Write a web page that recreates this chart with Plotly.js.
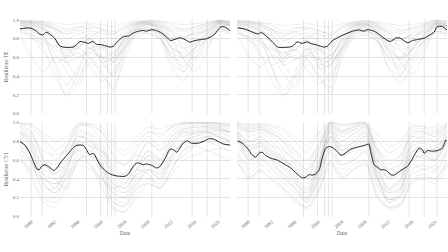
<!DOCTYPE html>
<html><head><meta charset="utf-8">
<script src="https://cdn.plot.ly/plotly-3.0.1.min.js"></script>
<style>html,body{margin:0;padding:0;background:#fff}#c{width:448px;height:252px}</style>
</head><body><div id="c"></div>
<script>
// ---- data ----
var years = [1986,1988,1990,1992,1994,1996,1998,2000,2002,2004,2006,2008,2010,2012,2014,2016,2018,2020,2022];
var tickYears = [1988,1992,1996,2000,2004,2008,2012,2016,2020];
var eventYears = [1987.9,1989.8,1997.4,1999.8,2001.0,2001.7,2002.3,2008.6,2015.5,2018.1,2020.3];

// top-left (TE) grey runs
var teLeftRuns = [
 [0.98,0.97,0.95,0.9,0.85,0.92,0.95,0.9,0.88,0.95,0.98,0.99,0.97,0.92,0.9,0.93,0.96,0.99,0.97],
 [0.95,0.9,0.8,0.55,0.3,0.5,0.75,0.6,0.55,0.8,0.95,0.97,0.9,0.7,0.65,0.8,0.9,0.98,0.95],
 [0.9,0.85,0.7,0.4,0.2,0.45,0.7,0.55,0.4,0.7,0.9,0.95,0.85,0.55,0.45,0.7,0.85,0.95,0.9],
 [1.0,0.99,0.98,0.95,0.9,0.93,0.9,0.85,0.85,0.92,0.97,0.98,0.96,0.9,0.88,0.9,0.94,0.99,0.98],
 [0.85,0.6,0.45,0.6,0.55,0.7,0.8,0.7,0.75,0.85,0.9,0.9,0.85,0.8,0.82,0.85,0.88,0.93,0.9],
 [0.97,0.95,0.9,0.75,0.6,0.65,0.5,0.35,0.45,0.75,0.9,0.93,0.88,0.75,0.6,0.7,0.85,0.97,0.95],
 [0.99,0.98,0.97,0.92,0.8,0.85,0.88,0.8,0.7,0.88,0.96,0.98,0.95,0.85,0.75,0.82,0.92,0.99,0.98],
 [0.92,0.88,0.82,0.65,0.45,0.3,0.55,0.45,0.25,0.6,0.85,0.9,0.8,0.6,0.5,0.65,0.8,0.93,0.9],
 [0.96,0.93,0.9,0.85,0.7,0.6,0.7,0.72,0.65,0.8,0.92,0.95,0.93,0.88,0.7,0.6,0.75,0.95,0.94],
 [0.88,0.8,0.75,0.7,0.55,0.6,0.65,0.6,0.58,0.72,0.85,0.86,0.78,0.5,0.35,0.55,0.7,0.88,0.85],
 [0.99,0.99,0.98,0.97,0.95,0.96,0.97,0.95,0.93,0.97,0.99,1.0,0.99,0.97,0.95,0.96,0.98,1.0,0.99],
 [0.94,0.92,0.85,0.5,0.18,0.35,0.6,0.4,0.3,0.65,0.88,0.92,0.82,0.62,0.55,0.72,0.85,0.96,0.93],
 [0.97,0.94,0.92,0.8,0.65,0.78,0.85,0.75,0.6,0.82,0.94,0.96,0.9,0.78,0.7,0.75,0.88,0.97,0.95],
 [0.93,0.96,0.94,0.88,0.75,0.7,0.82,0.88,0.8,0.9,0.96,0.97,0.93,0.82,0.8,0.88,0.93,0.98,0.96],
 [0.9,0.82,0.65,0.55,0.6,0.75,0.7,0.6,0.65,0.78,0.88,0.9,0.86,0.7,0.62,0.75,0.82,0.9,0.88],
 [0.98,0.96,0.92,0.82,0.55,0.4,0.65,0.7,0.55,0.75,0.93,0.96,0.92,0.8,0.58,0.45,0.65,0.92,0.95],
 [0.95,0.9,0.88,0.78,0.62,0.72,0.8,0.62,0.4,0.7,0.92,0.95,0.9,0.7,0.45,0.6,0.8,0.96,0.94],
 [0.99,0.97,0.95,0.9,0.85,0.88,0.92,0.9,0.85,0.93,0.97,0.99,0.98,0.95,0.9,0.92,0.96,0.99,0.98],
 [0.87,0.84,0.78,0.72,0.68,0.7,0.6,0.5,0.55,0.7,0.82,0.86,0.8,0.65,0.6,0.7,0.78,0.9,0.86],
 [0.96,0.98,0.96,0.92,0.88,0.9,0.78,0.55,0.6,0.85,0.95,0.97,0.94,0.88,0.82,0.86,0.9,0.97,0.97]
];
// top-right (TE) grey runs
var teRightRuns = [
 [0.97,0.96,0.93,0.88,0.82,0.9,0.93,0.88,0.86,0.94,0.97,0.98,0.96,0.9,0.88,0.92,0.95,0.99,0.96],
 [0.93,0.88,0.78,0.5,0.25,0.45,0.7,0.55,0.5,0.78,0.93,0.96,0.88,0.65,0.6,0.78,0.88,0.97,0.94],
 [0.88,0.82,0.65,0.35,0.18,0.4,0.65,0.5,0.35,0.68,0.88,0.93,0.82,0.5,0.4,0.68,0.83,0.94,0.88],
 [1.0,0.99,0.97,0.94,0.88,0.92,0.9,0.84,0.83,0.91,0.96,0.98,0.95,0.88,0.86,0.89,0.93,0.99,0.98],
 [0.83,0.62,0.5,0.62,0.55,0.68,0.78,0.68,0.72,0.83,0.88,0.88,0.83,0.78,0.8,0.83,0.86,0.92,0.88],
 [0.96,0.94,0.88,0.72,0.58,0.62,0.48,0.32,0.42,0.72,0.88,0.92,0.86,0.72,0.58,0.68,0.83,0.96,0.94],
 [0.99,0.98,0.96,0.9,0.78,0.83,0.86,0.78,0.68,0.86,0.95,0.97,0.94,0.83,0.72,0.8,0.9,0.98,0.97],
 [0.9,0.86,0.8,0.62,0.42,0.28,0.52,0.42,0.22,0.58,0.83,0.88,0.78,0.58,0.48,0.62,0.78,0.92,0.88],
 [0.95,0.92,0.88,0.83,0.68,0.58,0.68,0.7,0.62,0.78,0.9,0.94,0.92,0.86,0.68,0.58,0.72,0.94,0.93],
 [0.86,0.78,0.72,0.68,0.52,0.58,0.62,0.58,0.55,0.7,0.83,0.85,0.76,0.48,0.32,0.52,0.68,0.86,0.83],
 [0.99,0.98,0.97,0.96,0.94,0.95,0.96,0.94,0.92,0.96,0.98,0.99,0.98,0.96,0.94,0.95,0.97,1.0,0.99],
 [0.92,0.9,0.83,0.48,0.2,0.32,0.58,0.38,0.28,0.62,0.86,0.9,0.8,0.6,0.52,0.7,0.83,0.95,0.92],
 [0.96,0.93,0.9,0.78,0.62,0.75,0.83,0.72,0.58,0.8,0.93,0.95,0.88,0.75,0.68,0.73,0.86,0.96,0.94],
 [0.94,0.95,0.93,0.86,0.72,0.68,0.8,0.86,0.78,0.88,0.95,0.96,0.92,0.8,0.78,0.86,0.92,0.97,0.95],
 [0.88,0.8,0.62,0.52,0.58,0.72,0.68,0.58,0.62,0.76,0.86,0.88,0.84,0.68,0.6,0.72,0.8,0.88,0.86],
 [0.97,0.95,0.9,0.8,0.52,0.38,0.62,0.68,0.52,0.72,0.92,0.95,0.9,0.78,0.55,0.42,0.62,0.9,0.94],
 [0.94,0.88,0.86,0.75,0.6,0.7,0.78,0.6,0.38,0.68,0.9,0.94,0.88,0.68,0.42,0.58,0.78,0.95,0.93],
 [0.99,0.97,0.95,0.9,0.84,0.87,0.91,0.89,0.84,0.92,0.97,0.99,0.97,0.94,0.89,0.91,0.95,0.99,0.98],
 [0.86,0.82,0.76,0.7,0.65,0.68,0.58,0.48,0.52,0.68,0.8,0.84,0.78,0.62,0.58,0.68,0.76,0.88,0.85],
 [0.97,0.97,0.95,0.9,0.86,0.88,0.76,0.52,0.58,0.83,0.94,0.96,0.93,0.86,0.8,0.84,0.89,0.96,0.96]
];
// bottom-left (CVI) grey runs
var cviLeftRuns = [
 [0.95,0.8,0.45,0.3,0.55,0.9,0.85,0.6,0.3,0.25,0.5,0.7,0.6,0.85,0.95,0.97,0.98,0.96,0.93],
 [0.85,0.6,0.25,0.2,0.45,0.85,0.8,0.45,0.15,0.1,0.35,0.55,0.45,0.75,0.9,0.92,0.95,0.93,0.9],
 [0.9,0.85,0.7,0.65,0.7,0.8,0.75,0.7,0.6,0.55,0.65,0.6,0.55,0.65,0.8,0.85,0.88,0.9,0.85],
 [0.98,0.95,0.8,0.6,0.75,0.97,0.95,0.8,0.5,0.45,0.7,0.85,0.75,0.9,0.98,0.99,0.99,0.98,0.96],
 [0.7,0.45,0.2,0.15,0.35,0.65,0.6,0.35,0.1,0.05,0.25,0.4,0.35,0.6,0.75,0.8,0.85,0.8,0.75],
 [0.8,0.7,0.55,0.5,0.6,0.7,0.55,0.4,0.3,0.35,0.5,0.45,0.3,0.5,0.7,0.75,0.7,0.72,0.7],
 [0.92,0.75,0.35,0.25,0.5,0.8,0.9,0.75,0.45,0.35,0.6,0.8,0.7,0.8,0.9,0.88,0.92,0.95,0.9],
 [0.6,0.5,0.4,0.35,0.4,0.55,0.5,0.4,0.25,0.2,0.3,0.35,0.3,0.45,0.6,0.65,0.7,0.65,0.6],
 [0.97,0.9,0.6,0.45,0.7,0.95,0.98,0.9,0.65,0.55,0.75,0.9,0.85,0.95,0.99,1.0,0.99,0.99,0.97],
 [0.75,0.55,0.3,0.3,0.5,0.75,0.7,0.55,0.2,0.15,0.4,0.6,0.5,0.55,0.65,0.75,0.85,0.88,0.8],
 [0.88,0.82,0.6,0.4,0.3,0.6,0.7,0.5,0.35,0.3,0.45,0.5,0.4,0.6,0.8,0.9,0.9,0.85,0.8],
 [0.99,0.97,0.9,0.8,0.85,0.98,0.97,0.9,0.75,0.65,0.8,0.9,0.88,0.95,0.99,0.99,1.0,0.99,0.98],
 [0.9,0.7,0.4,0.35,0.6,0.88,0.75,0.5,0.25,0.2,0.45,0.65,0.55,0.8,0.92,0.95,0.96,0.94,0.9],
 [0.82,0.65,0.5,0.45,0.55,0.75,0.8,0.65,0.4,0.3,0.5,0.65,0.6,0.7,0.85,0.88,0.9,0.92,0.88],
 [0.95,0.88,0.65,0.55,0.75,0.92,0.88,0.7,0.45,0.4,0.6,0.78,0.7,0.85,0.93,0.95,0.96,0.97,0.95],
 [0.65,0.4,0.15,0.1,0.3,0.6,0.55,0.3,0.08,0.05,0.2,0.35,0.3,0.5,0.7,0.78,0.8,0.75,0.7],
 [0.78,0.6,0.45,0.4,0.45,0.6,0.65,0.55,0.35,0.25,0.35,0.5,0.45,0.65,0.78,0.82,0.85,0.85,0.8],
 [0.99,0.98,0.85,0.7,0.8,0.99,0.99,0.95,0.8,0.7,0.85,0.95,0.93,0.98,1.0,1.0,1.0,1.0,0.99],
 [0.72,0.58,0.35,0.25,0.4,0.7,0.65,0.45,0.15,0.12,0.3,0.5,0.4,0.65,0.8,0.85,0.9,0.85,0.8],
 [0.88,0.78,0.55,0.5,0.65,0.85,0.82,0.7,0.55,0.45,0.55,0.7,0.62,0.75,0.88,0.9,0.93,0.92,0.9]
];
// bottom-right (CVI) grey runs
var cviRightRuns = [
 [0.95,0.85,0.9,0.8,0.65,0.45,0.3,0.6,0.97,0.85,0.92,0.97,0.6,0.3,0.4,0.8,0.85,0.8,0.95],
 [0.85,0.65,0.75,0.6,0.45,0.3,0.15,0.45,0.9,0.7,0.8,0.9,0.45,0.15,0.25,0.65,0.7,0.65,0.85],
 [0.99,0.95,0.97,0.92,0.85,0.7,0.55,0.8,1.0,0.95,0.98,1.0,0.75,0.55,0.65,0.92,0.93,0.9,0.98],
 [0.7,0.5,0.6,0.5,0.35,0.25,0.15,0.35,0.75,0.55,0.65,0.75,0.35,0.15,0.2,0.5,0.55,0.5,0.7],
 [0.9,0.8,0.82,0.75,0.7,0.6,0.5,0.65,0.85,0.75,0.78,0.85,0.6,0.5,0.55,0.75,0.7,0.72,0.85],
 [0.75,0.6,0.65,0.55,0.45,0.35,0.25,0.45,0.7,0.55,0.6,0.7,0.4,0.25,0.3,0.55,0.5,0.55,0.7],
 [1.0,0.98,0.99,0.97,0.93,0.85,0.75,0.9,1.0,0.98,0.99,1.0,0.88,0.75,0.8,0.97,0.96,0.95,0.99],
 [0.6,0.4,0.5,0.4,0.3,0.2,0.1,0.3,0.6,0.45,0.55,0.6,0.25,0.1,0.15,0.4,0.45,0.4,0.6],
 [0.93,0.75,0.85,0.7,0.55,0.4,0.25,0.55,0.95,0.8,0.88,0.95,0.5,0.25,0.35,0.75,0.78,0.72,0.92],
 [0.8,0.72,0.75,0.68,0.6,0.5,0.4,0.55,0.78,0.65,0.7,0.78,0.55,0.4,0.45,0.65,0.62,0.6,0.78],
 [0.97,0.9,0.93,0.88,0.78,0.6,0.45,0.7,0.99,0.9,0.95,0.99,0.65,0.4,0.55,0.88,0.9,0.85,0.97],
 [0.65,0.45,0.55,0.45,0.3,0.18,0.08,0.25,0.55,0.4,0.5,0.55,0.2,0.08,0.12,0.35,0.4,0.35,0.55],
 [0.88,0.68,0.78,0.62,0.5,0.35,0.2,0.5,0.9,0.7,0.8,0.88,0.4,0.18,0.28,0.68,0.7,0.62,0.85],
 [0.95,0.9,0.92,0.88,0.8,0.7,0.6,0.75,0.95,0.88,0.92,0.95,0.72,0.6,0.65,0.85,0.82,0.8,0.92],
 [0.9,0.6,0.7,0.65,0.6,0.5,0.35,0.5,0.85,0.65,0.72,0.8,0.5,0.3,0.4,0.6,0.65,0.6,0.8],
 [0.98,0.93,0.95,0.85,0.72,0.55,0.4,0.7,0.98,0.9,0.95,0.98,0.7,0.45,0.5,0.85,0.88,0.85,0.96],
 [0.92,0.8,0.85,0.75,0.6,0.42,0.28,0.55,0.93,0.8,0.88,0.93,0.55,0.28,0.38,0.78,0.8,0.75,0.9],
 [0.8,0.62,0.7,0.58,0.42,0.28,0.18,0.4,0.85,0.65,0.75,0.85,0.42,0.18,0.22,0.6,0.65,0.6,0.8],
 [0.97,0.92,0.95,0.9,0.8,0.65,0.5,0.75,0.98,0.92,0.96,0.98,0.7,0.5,0.6,0.9,0.9,0.88,0.96],
 [0.68,0.55,0.62,0.52,0.4,0.3,0.2,0.38,0.68,0.5,0.6,0.68,0.32,0.18,0.22,0.45,0.5,0.48,0.65],
 [0.85,0.75,0.78,0.7,0.62,0.52,0.42,0.6,0.82,0.7,0.75,0.82,0.55,0.42,0.48,0.7,0.68,0.68,0.82],
 [0.99,0.97,0.98,0.95,0.9,0.8,0.68,0.88,1.0,0.97,0.99,1.0,0.82,0.68,0.75,0.95,0.95,0.92,0.99],
 [0.58,0.42,0.48,0.38,0.28,0.15,0.1,0.28,0.58,0.42,0.5,0.58,0.22,0.1,0.12,0.38,0.42,0.4,0.58],
 [0.9,0.7,0.8,0.66,0.52,0.38,0.22,0.52,0.92,0.75,0.84,0.9,0.45,0.22,0.3,0.7,0.74,0.68,0.88]
];

// median series
var teLeftMedX = [1986.0,1987.7,1988.6,1989.4,1989.9,1990.5,1991.1,1992.0,1992.7,1993.4,1995.1,1995.6,1996.3,1997.1,1997.7,1998.5,1999.1,2000.0,2000.9,2001.4,2002.0,2002.9,2003.7,2004.6,2005.4,2006.3,2007.1,2007.7,2008.6,2009.4,2010.3,2011.1,2011.8,2012.4,2013.4,2014.3,2015.1,2016.0,2016.9,2017.7,2018.6,2019.4,2020.3,2020.9,2021.5,2022.0];
var teLeftMedY = [0.905,0.915,0.89,0.85,0.84,0.87,0.85,0.80,0.73,0.71,0.71,0.73,0.77,0.76,0.75,0.77,0.74,0.735,0.72,0.71,0.72,0.78,0.82,0.83,0.86,0.88,0.887,0.88,0.897,0.887,0.86,0.82,0.78,0.79,0.81,0.79,0.763,0.78,0.79,0.795,0.816,0.85,0.92,0.93,0.91,0.88];
var teRightMedX = [1986.1,1987.2,1988.3,1989.5,1990.2,1990.6,1991.5,1992.3,1993.0,1994.9,1995.5,1996.3,1997.2,1998.1,1998.6,1999.8,2000.9,2001.5,2002.3,2003.5,2004.6,2005.8,2006.9,2007.8,2008.3,2009.5,2010.6,2011.8,2012.3,2013.2,2013.8,2014.6,2015.3,2016.1,2016.9,2018.1,2018.9,2019.8,2020.3,2021.2,2022.0];
var teRightMedY = [0.915,0.905,0.88,0.85,0.865,0.85,0.80,0.75,0.71,0.71,0.72,0.765,0.75,0.765,0.75,0.73,0.71,0.72,0.775,0.82,0.85,0.88,0.894,0.88,0.897,0.88,0.834,0.78,0.77,0.806,0.81,0.78,0.756,0.78,0.79,0.806,0.834,0.87,0.93,0.93,0.894];
var cviLeftMedX = [1986.0,1986.9,1987.7,1988.3,1988.9,1989.3,1989.7,1990.2,1990.9,1991.4,1991.8,1992.3,1993.1,1994.0,1994.9,1995.6,1996.3,1996.9,1997.4,1997.9,1998.6,1999.1,1999.7,2000.6,2001.4,2002.3,2003.1,2004.0,2004.6,2005.4,2006.0,2006.6,2007.1,2007.7,2008.6,2009.4,2010.0,2010.9,2011.7,2012.3,2012.9,2013.4,2014.0,2014.7,2015.4,2016.6,2017.4,2018.3,2019.1,2020.0,2020.9,2022.0];
var cviLeftMedY = [0.797,0.755,0.674,0.586,0.505,0.498,0.533,0.55,0.533,0.505,0.488,0.516,0.586,0.65,0.716,0.755,0.76,0.755,0.71,0.66,0.67,0.62,0.55,0.488,0.453,0.435,0.428,0.428,0.453,0.533,0.568,0.565,0.55,0.56,0.544,0.516,0.533,0.62,0.716,0.71,0.684,0.726,0.78,0.804,0.78,0.78,0.797,0.825,0.825,0.797,0.77,0.76];
var cviRightMedX = [1986.1,1986.9,1987.8,1988.6,1989.2,1989.8,1990.3,1990.9,1991.8,1992.9,1994.1,1995.2,1996.3,1997.2,1997.8,1998.3,1998.9,1999.5,2000.1,2000.6,2001.2,2001.8,2002.3,2003.2,2003.8,2004.3,2005.5,2006.6,2007.8,2008.6,2008.9,2009.5,2010.1,2010.6,2011.2,2011.8,2012.3,2012.9,2013.5,2014.3,2015.2,2015.8,2016.6,2017.2,2017.8,2018.1,2018.6,2019.5,2020.3,2021.2,2021.8,2022.0];
var cviRightMedY = [0.804,0.78,0.726,0.656,0.63,0.674,0.684,0.65,0.62,0.60,0.558,0.516,0.453,0.41,0.418,0.446,0.44,0.453,0.498,0.62,0.726,0.744,0.737,0.69,0.65,0.664,0.716,0.737,0.755,0.77,0.69,0.55,0.523,0.498,0.498,0.48,0.446,0.44,0.463,0.498,0.533,0.586,0.674,0.726,0.71,0.67,0.70,0.695,0.70,0.726,0.814,0.80];

// ---- build ----
var panels = [
 {runs: teLeftRuns,  mx: teLeftMedX,  my: teLeftMedY,  xa:'x',  ya:'y'},
 {runs: teRightRuns, mx: teRightMedX, my: teRightMedY, xa:'x2', ya:'y2'},
 {runs: cviLeftRuns, mx: cviLeftMedX, my: cviLeftMedY, xa:'x3', ya:'y3'},
 {runs: cviRightRuns,mx: cviRightMedX,my: cviRightMedY,xa:'x4', ya:'y4'}
];
var traces = [];
panels.forEach(function(p){
  p.runs.forEach(function(r){
    traces.push({x: years, y: r, xaxis:p.xa, yaxis:p.ya, mode:'lines',
      line:{color:'rgba(120,120,120,0.22)', width:0.6, shape:'spline', smoothing:0.7},
      hoverinfo:'skip', showlegend:false});
  });
});
panels.forEach(function(p){
  traces.push({x: p.mx, y: p.my, xaxis:p.xa, yaxis:p.ya, mode:'lines',
    line:{color:'#222', width:1.0, shape:'spline', smoothing:0.6},
    hoverinfo:'skip', showlegend:false});
});

var fnt = {family:'Liberation Serif, DejaVu Serif, serif', size:5, color:'#666'};
function xax(dom, anchor, showLabels){
  var a = {domain:dom, anchor:anchor, range:[1986,2022], tickvals:tickYears, ticktext:tickYears.map(String),
    showgrid:false, zeroline:false, showline:false, ticks:'', tickfont:fnt, tickangle:-40,
    showticklabels:showLabels};
  if (showLabels) a.title = {text:'Date', font:{family:fnt.family, size:5.5, color:'#666'}, standoff:2};
  return a;
}
function yax(dom, anchor, showLabels, title){
  var a = {domain:dom, anchor:anchor, range:[-0.005,1.005], tickvals:[0,0.2,0.4,0.6,0.8,1.0],
    ticktext:['0.0','0.2','0.4','0.6','0.8','1.0'], showgrid:true, gridcolor:'#e2e2e2', gridwidth:1,
    zeroline:false, showline:false, ticks:'', tickfont:fnt, showticklabels:showLabels};
  if (title) a.title = {text:title, font:{family:fnt.family, size:5.5, color:'#666'}, standoff:3};
  return a;
}
var xL=[20/448,230/448], xR=[237/448,447/448], yT=[1-114/252,1-19.5/252], yB=[1-217/252,1-122/252];

var shapes = [];
[['x','y'],['x2','y2'],['x3','y3'],['x4','y4']].forEach(function(ax){
  eventYears.forEach(function(e){
    shapes.push({type:'line', xref:ax[0], yref:ax[1]+' domain', x0:e, x1:e, y0:0, y1:1,
      line:{color:'#e0e0e0', width:0.8}, layer:'below'});
  });
});

var layout = {
  width:448, height:252, margin:{l:0,r:0,t:0,b:0}, paper_bgcolor:'#fff', plot_bgcolor:'#fff',
  font: fnt, showlegend:false,
  xaxis: xax(xL,'y',false), xaxis2: xax(xR,'y2',false),
  xaxis3: xax(xL,'y3',true), xaxis4: xax(xR,'y4',true),
  yaxis: yax(yT,'x',true,'Resilience TE'), yaxis2: yax(yT,'x2',false,null),
  yaxis3: yax(yB,'x3',true,'Resilience CVI'), yaxis4: yax(yB,'x4',false,null),
  shapes: shapes
};
Plotly.newPlot('c', traces, layout, {staticPlot:true, displayModeBar:false});
</script></body></html>
